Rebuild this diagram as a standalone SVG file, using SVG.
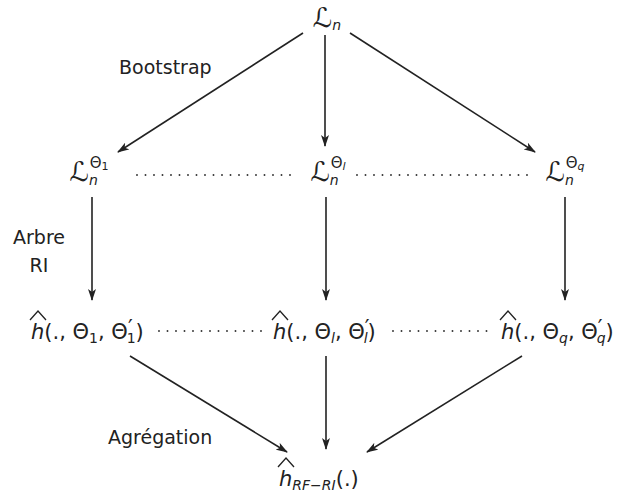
<svg xmlns="http://www.w3.org/2000/svg" width="622" height="502" viewBox="0 0 622 502">
<style>
.lbl{font-family:"DejaVu Sans","Liberation Sans",sans-serif;font-size:19px;fill:#222}
.m{font-family:"DejaVu Sans","Liberation Sans",sans-serif;font-size:21px;fill:#222}
.i{font-style:italic}
.L{font-size:27px}
.s{font-size:14px}
.sp{font-size:15px}
.ss{font-size:11px}
.pr{font-size:21px}
.edge{stroke:#222;stroke-width:1.6;fill:none;marker-end:url(#ah)}
.dot{stroke:#333;stroke-width:1.9;stroke-linecap:round;stroke-dasharray:0 8.5;fill:none}
.hat{stroke:#222;stroke-width:1.3;fill:none}
</style>
<defs>
<marker id="ah" viewBox="0 0 12 8" refX="11" refY="4" markerWidth="12" markerHeight="8" markerUnits="userSpaceOnUse" orient="auto">
<path d="M0,0 L12,4 L0,8 L3,4 Z" fill="#222"/>
</marker>
</defs>
<rect width="622" height="502" fill="#fff"/>
<g id="connectors">
<line class="edge" x1="303" y1="33" x2="118" y2="152"/>
<line class="edge" x1="325" y1="35" x2="325" y2="146"/>
<line class="edge" x1="350" y1="33" x2="535" y2="152"/>
<line class="edge" x1="92" y1="197" x2="92" y2="300"/>
<line class="edge" x1="326" y1="197" x2="326" y2="300"/>
<line class="edge" x1="565" y1="197" x2="565" y2="300"/>
<line class="edge" x1="130" y1="356" x2="287" y2="452"/>
<line class="edge" x1="326" y1="356" x2="326" y2="449"/>
<line class="edge" x1="522" y1="356" x2="367" y2="452"/>
<line class="dot" x1="137" y1="175" x2="298" y2="175"/>
<line class="dot" x1="357" y1="175" x2="535" y2="175"/>
<line class="dot" x1="159" y1="331" x2="262" y2="331"/>
<line class="dot" x1="393" y1="331" x2="491" y2="331"/>
</g>
<g id="labels">
<text class="lbl" x="119" y="74">Bootstrap</text>
<text class="lbl" x="39" y="244" text-anchor="middle">Arbre</text>
<text class="lbl" x="39" y="272" text-anchor="middle">RI</text>
<text class="lbl" x="108" y="444">Agrégation</text>
</g>
<g id="Ln">
<text class="m" x="327" y="27" text-anchor="middle"><tspan class="L">ℒ</tspan><tspan class="i s" dy="3">n</tspan></text>
</g>
<g id="L1">
<text class="m" x="89" y="181" text-anchor="middle"><tspan class="L">ℒ</tspan><tspan class="i s" dy="4">n</tspan><tspan class="sp" dx="-8" dy="-17">Θ</tspan><tspan class="ss" dy="2">1</tspan></text>
</g>
<g id="Ll">
<text class="m" x="328" y="181" text-anchor="middle"><tspan class="L">ℒ</tspan><tspan class="i s" dy="4">n</tspan><tspan class="sp" dx="-8" dy="-17">Θ</tspan><tspan class="i ss" dy="2">l</tspan></text>
</g>
<g id="Lq">
<text class="m" x="565" y="181" text-anchor="middle"><tspan class="L">ℒ</tspan><tspan class="i s" dy="4">n</tspan><tspan class="sp" dx="-8" dy="-17">Θ</tspan><tspan class="i ss" dy="2">q</tspan></text>
</g>
<g id="h1">
<polyline class="hat" points="30,320 38,311 46,320"/>
<text class="m" x="31" y="339"><tspan class="i">h</tspan>(., Θ<tspan class="s" dy="4">1</tspan><tspan dy="-4">, Θ</tspan><tspan class="pr" dy="-4">′</tspan><tspan class="s" dx="-6" dy="8">1</tspan><tspan dy="-4">)</tspan></text>
</g>
<g id="hl">
<polyline class="hat" points="272,320 280,311 288,320"/>
<text class="m" x="273" y="339"><tspan class="i">h</tspan>(., Θ<tspan class="i s" dy="4">l</tspan><tspan dy="-4">, Θ</tspan><tspan class="pr" dy="-4">′</tspan><tspan class="i s" dx="-6" dy="8">l</tspan><tspan dy="-4">)</tspan></text>
</g>
<g id="hq">
<polyline class="hat" points="500,320 508,311 516,320"/>
<text class="m" x="501" y="339"><tspan class="i">h</tspan>(., Θ<tspan class="i s" dy="4">q</tspan><tspan dy="-4">, Θ</tspan><tspan class="pr" dy="-4">′</tspan><tspan class="i s" dx="-6" dy="8">q</tspan><tspan dy="-4">)</tspan></text>
</g>
<g id="hRF">
<polyline class="hat" points="278,467 286,458 294,467"/>
<text class="m" x="279" y="486"><tspan class="i">h</tspan><tspan class="i s" dy="4">RF−RI</tspan><tspan dy="-4">(.)</tspan></text>
</g>
</svg>
